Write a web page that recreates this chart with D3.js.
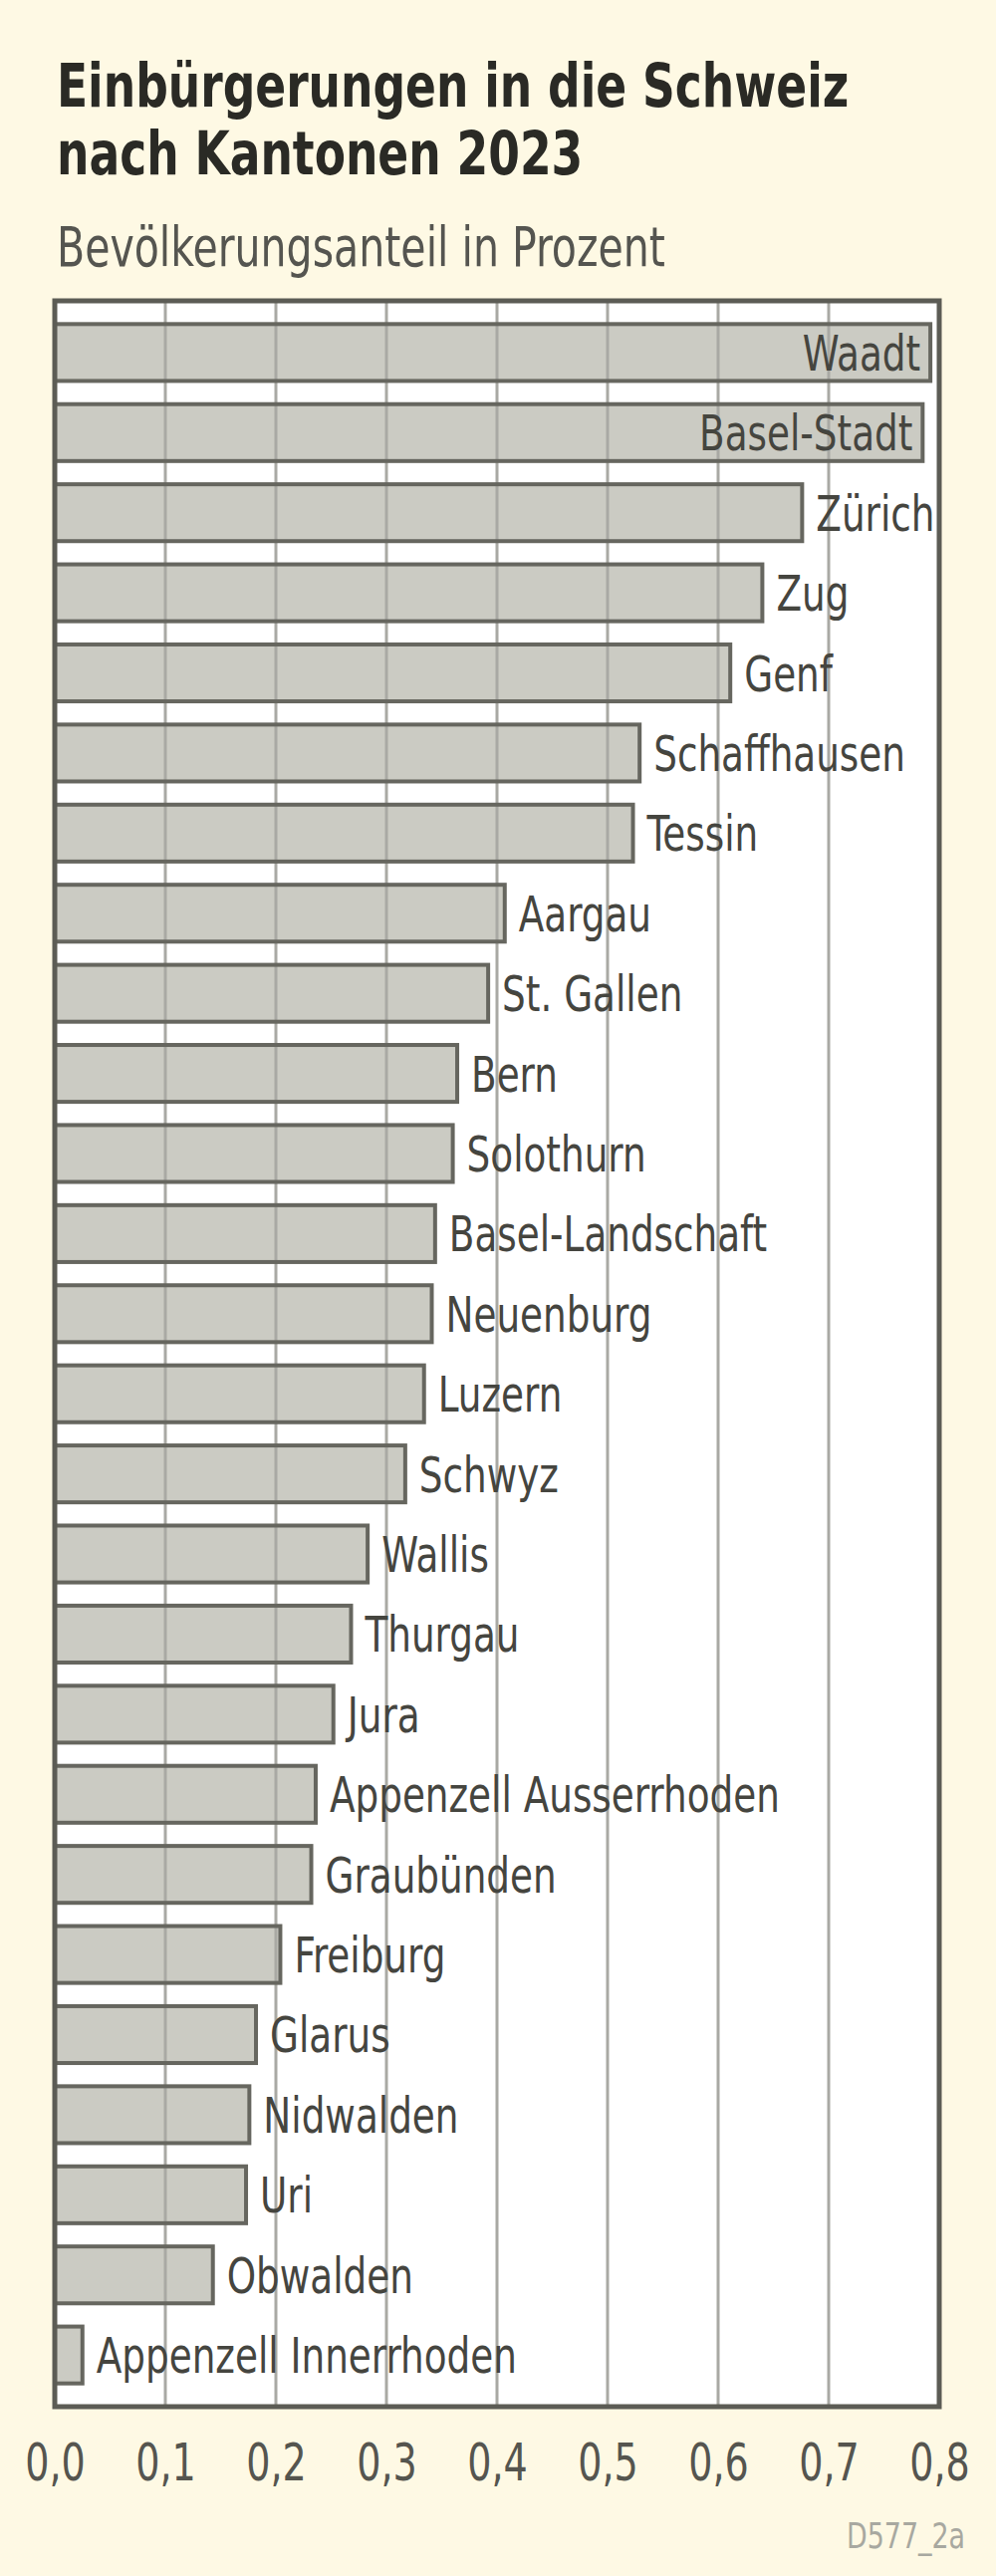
<!DOCTYPE html>
<html>
<head>
<meta charset="utf-8">
<script src="https://cdn.jsdelivr.net/npm/d3@7"></script>
<style>
  body { margin: 0; background: #fef9e4; }
  svg text { font-family: 'Liberation Sans Narrow', 'Arial Narrow', 'DejaVu Sans Condensed', sans-serif; }
</style>
</head>
<body>
<svg id="chart" width="1000" height="2586"></svg>
<script>
// Kantone, sortiert wie in der Vorlage
let cantons = [
  "Waadt", "Basel-Stadt", "Zürich", "Zug", "Genf", "Schaffhausen", "Tessin",
  "Aargau", "St. Gallen", "Bern", "Solothurn", "Basel-Landschaft", "Neuenburg",
  "Luzern", "Schwyz", "Wallis", "Thurgau", "Jura", "Appenzell Ausserrhoden",
  "Graubünden", "Freiburg", "Glarus", "Nidwalden", "Uri", "Obwalden",
  "Appenzell Innerrhoden"
];

// Bevölkerungsanteil in Prozent
let shares = [
  0.792, 0.785, 0.676, 0.640, 0.611, 0.529, 0.523,
  0.407, 0.392, 0.364, 0.360, 0.344, 0.341,
  0.334, 0.317, 0.283, 0.268, 0.252, 0.236,
  0.232, 0.204, 0.182, 0.176, 0.173, 0.143,
  0.025
];

// labels drawn inside the bar
let insideLabels = ["Waadt", "Basel-Stadt"];

let xTicks = [0, 0.1, 0.2, 0.3, 0.4, 0.5, 0.6, 0.7, 0.8];

let titleLines = ["Einbürgerungen in die Schweiz", "nach Kantonen 2023"];
let subtitle = "Bevölkerungsanteil in Prozent";
let sourceCode = "D577_2a";

let data = cantons.map((c, i) => ({ canton: c, share: shares[i] }));

let svg = d3.select("#chart");

let margin = { top: 302, right: 57, bottom: 170, left: 55 };
let width = 1000, height = 2586;
let plotRight = width - margin.right;
let plotBottom = height - margin.bottom;

// the original uses a very narrow face, squeeze the condensed fallback a bit
let squeeze = 0.83;
let squeezeBold = 0.83;
let place = (k) => (sel, fx, fy) => sel
  .attr("x", 0).attr("y", 0)
  .attr("transform", (d, i) => `translate(${fx(d, i)},${fy(d, i)}) scale(${k},1)`);

let x = d3.scaleLinear()
  .domain([0, 0.8])
  .range([margin.left, plotRight]);

let y = d3.scaleBand()
  .domain(cantons)
  .range([margin.top, plotBottom])
  .padding(0.29);

let de = d3.formatLocale({ decimal: ",", thousands: ".", grouping: [3], currency: ["", " CHF"] });
let fmt = de.format(".1f");

// background
svg.append("rect")
  .attr("width", width).attr("height", height)
  .attr("fill", "#fef9e4");

// title + subtitle
svg.append("g").selectAll("text")
  .data(titleLines)
  .join("text")
    .call(place(squeezeBold), () => 57, (d, i) => 107 + i * 68)
    .attr("font-size", 61)
    .attr("font-weight", "bold")
    .attr("fill", "#2a2a25")
    .text(d => d);

svg.append("g").selectAll("text")
  .data([subtitle])
  .join("text")
    .call(place(squeeze), () => 57, () => 267)
    .attr("font-size", 55)
    .attr("fill", "#555550")
    .text(d => d);

// plot area
svg.append("rect")
  .attr("x", margin.left).attr("y", margin.top)
  .attr("width", plotRight - margin.left)
  .attr("height", plotBottom - margin.top)
  .attr("fill", "#ffffff");

// bar fills first, so the grid shows through
svg.append("g").attr("id", "bar-fill")
  .selectAll("rect")
  .data(data)
  .join("rect")
    .attr("x", x(0))
    .attr("y", d => y(d.canton))
    .attr("width", d => x(d.share) - x(0))
    .attr("height", y.bandwidth())
    .attr("fill", "#cbcbc3");

// vertical grid
svg.append("g").attr("id", "grid")
  .selectAll("line")
  .data(xTicks.slice(1, -1))
  .join("line")
    .attr("x1", d => x(d)).attr("x2", d => x(d))
    .attr("y1", margin.top).attr("y2", plotBottom)
    .attr("stroke", "#a9a9a4")
    .attr("stroke-width", 3);

// bar outlines
svg.append("g").attr("id", "bar-outline")
  .selectAll("rect")
  .data(data)
  .join("rect")
    .attr("x", x(0))
    .attr("y", d => y(d.canton))
    .attr("width", d => x(d.share) - x(0))
    .attr("height", y.bandwidth())
    .attr("fill", "none")
    .attr("stroke", "#66665f")
    .attr("stroke-width", 4);

// frame
svg.append("rect")
  .attr("x", margin.left).attr("y", margin.top)
  .attr("width", plotRight - margin.left)
  .attr("height", plotBottom - margin.top)
  .attr("fill", "none")
  .attr("stroke", "#5c5c55")
  .attr("stroke-width", 5);

// canton labels
svg.append("g").attr("id", "labels")
  .selectAll("text")
  .data(data)
  .join("text")
    .call(place(squeeze),
      d => insideLabels.includes(d.canton) ? x(d.share) - 10 : x(d.share) + 14,
      d => y(d.canton) + y.bandwidth() / 2 + 18)
    .attr("text-anchor", d => insideLabels.includes(d.canton) ? "end" : "start")
    .attr("font-size", 50)
    .attr("fill", "#45453f")
    .text(d => d.canton);

// x axis (labels only)
let xAxis = d3.axisBottom(x)
  .tickValues(xTicks)
  .tickSize(0)
  .tickPadding(0)
  .tickFormat(fmt);

let xGroup = svg.append("g")
  .attr("id", "x-axis")
  .attr("transform", "translate(0," + plotBottom + ")")
  .call(xAxis);

xGroup.select(".domain").remove();
xGroup.selectAll("text")
  .attr("y", 0)
  .attr("dy", 0)
  .attr("transform", `translate(0,74) scale(${squeeze},1)`)
  .attr("font-size", 51)
  .attr("font-family", null)
  .attr("fill", "#55554f");

// source code
svg.append("g").selectAll("text")
  .data([sourceCode])
  .join("text")
    .call(place(squeeze), () => 969, () => 2558)
    .attr("text-anchor", "end")
    .attr("font-size", 36)
    .attr("fill", "#a8a8a0")
    .text(d => d);
</script>
</body>
</html>
